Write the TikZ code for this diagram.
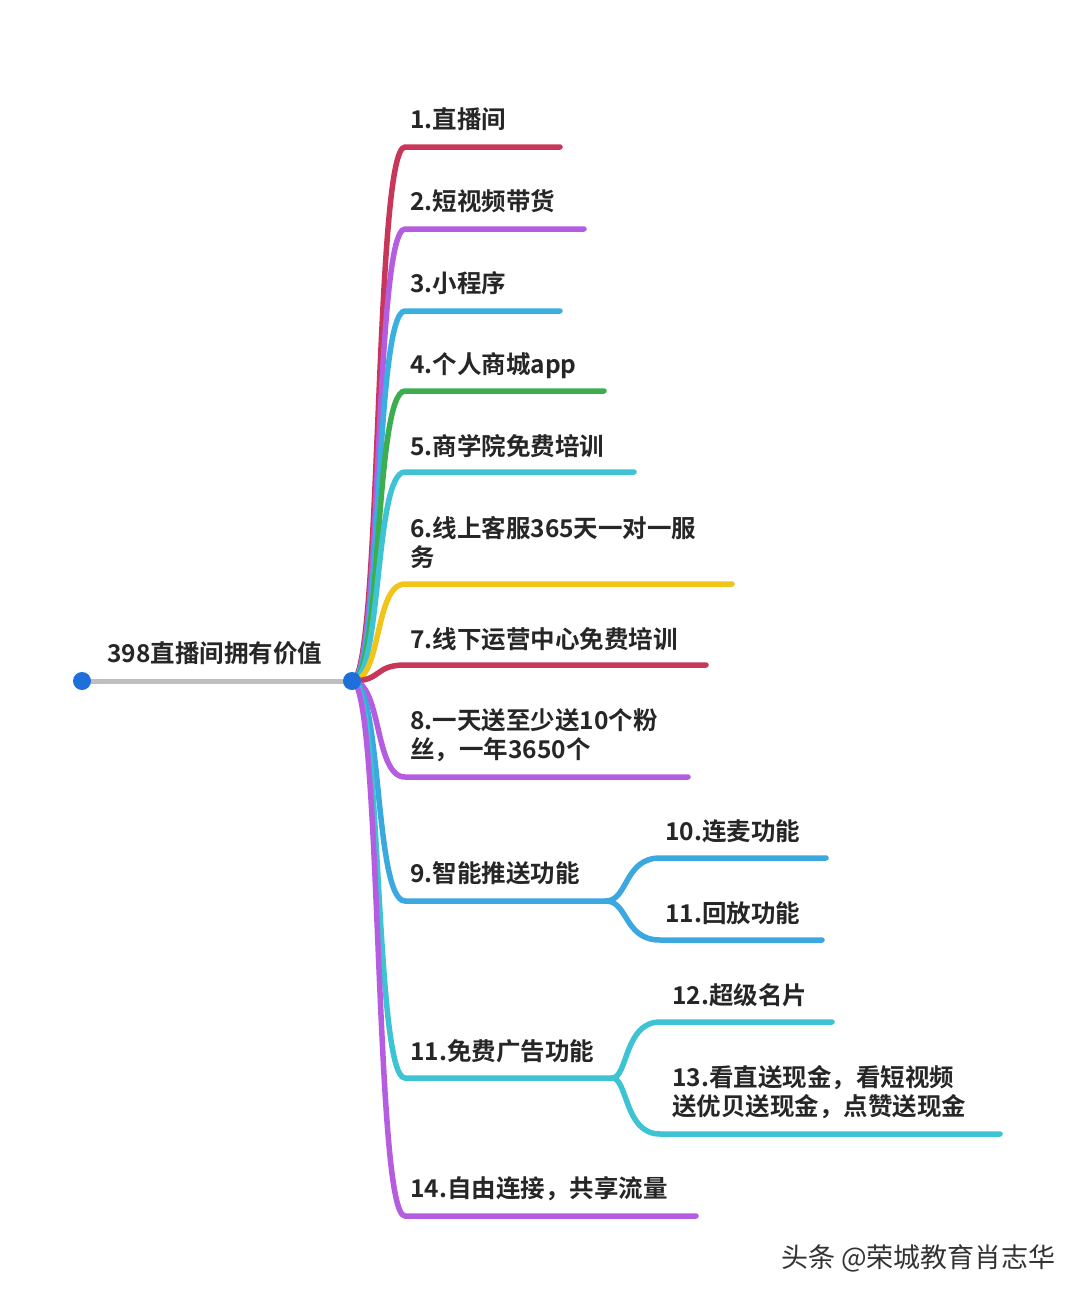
\documentclass[tikz,border=0pt]{standalone}
\usepackage{fontspec}
\setmainfont{Noto Sans CJK SC}[BoldFont={Noto Sans CJK SC Bold}]
\definecolor{cr}{HTML}{C8365A}\definecolor{pu}{HTML}{B55DE0}\definecolor{sk}{HTML}{3BB0E0}
\definecolor{gr}{HTML}{3DAE4F}\definecolor{cy}{HTML}{3EC3D3}\definecolor{ye}{HTML}{F0C419}
\definecolor{bl}{HTML}{3BA8E0}\definecolor{dot}{HTML}{1E6FD9}
\begin{document}
\begin{tikzpicture}[x=1pt,y=-1pt,
  br/.style={line width=5.5pt,line cap=round},
  lbl/.style={anchor=base west,inner sep=0pt,font=\bfseries\fontsize{24.5}{29}\selectfont,align=left,text=black!85}]
\useasboundingbox[fill=white] (0,0) rectangle (1080,1296);
\coordinate (hub) at (352,681);
\draw[line width=5pt,gray!50] (82,681) -- (hub);
\foreach \y/\e/\c/\n in {147/560/cr/1,229/584/pu/2,311/560/sk/3,391/604/gr/4,472/634/cy/5,584/732/ye/6,665/706/cr/7,777/688/pu/8,901/606/bl/9,1078/612/cy/11,1216/696/pu/14}{
  \coordinate (s\n) at (405,\y); \coordinate (e\n) at (\e,\y);
  \draw[br,\c] (hub) .. controls (382,681) and (374,\y) .. (s\n) -- (e\n);
}
\foreach \y/\e/\n/\p/\c in {858/826/10/9/bl,940/822/11b/9/bl,1022/832/12/11/cy,1134/1000/13/11/cy}{
  \coordinate (t\n) at (660,\y); \coordinate (f\n) at (\e,\y);
  \draw[br,\c] (e\p) .. controls (628,0|-e\p) and (624,\y) .. (t\n) -- (f\n);
}
\fill[dot] (82,681) circle (9); \fill[dot] (hub) circle (9);
\node[lbl] (root) at (107,662) {398直播间拥有价值};
\node[lbl] (l1) at (410,128) {1.直播间};
\node[lbl] (l2) at (410,210) {2.短视频带货};
\node[lbl] (l3) at (410,292) {3.小程序};
\node[lbl] (l4) at (410,373) {4.个人商城app};
\node[lbl] (l5) at (410,455) {5.商学院免费培训};
\node[lbl] (l6) at (410,566) {6.线上客服365天一对一服\\务};
\node[lbl] (l7) at (410,648) {7.线下运营中心免费培训};
\node[lbl] (l8) at (410,758) {8.一天送至少送10个粉\\丝，一年3650个};
\node[lbl] (l9) at (410,882) {9.智能推送功能};
\node[lbl] (l10) at (665,840) {10.连麦功能};
\node[lbl] (l11b) at (665,922) {11.回放功能};
\node[lbl] (l11) at (410,1060) {11.免费广告功能};
\node[lbl] (l12) at (672,1004) {12.超级名片};
\node[lbl] (l13) at (672,1115) {13.看直送现金，看短视频\\送优贝送现金，点赞送现金};
\node[lbl] (l14) at (410,1197) {14.自由连接，共享流量};
\node[anchor=base east,inner sep=0pt,font=\fontsize{27}{30}\selectfont,text=black!80] (wm) at (1056,1267) {头条 @荣城教育肖志华};
\end{tikzpicture}
\end{document}
